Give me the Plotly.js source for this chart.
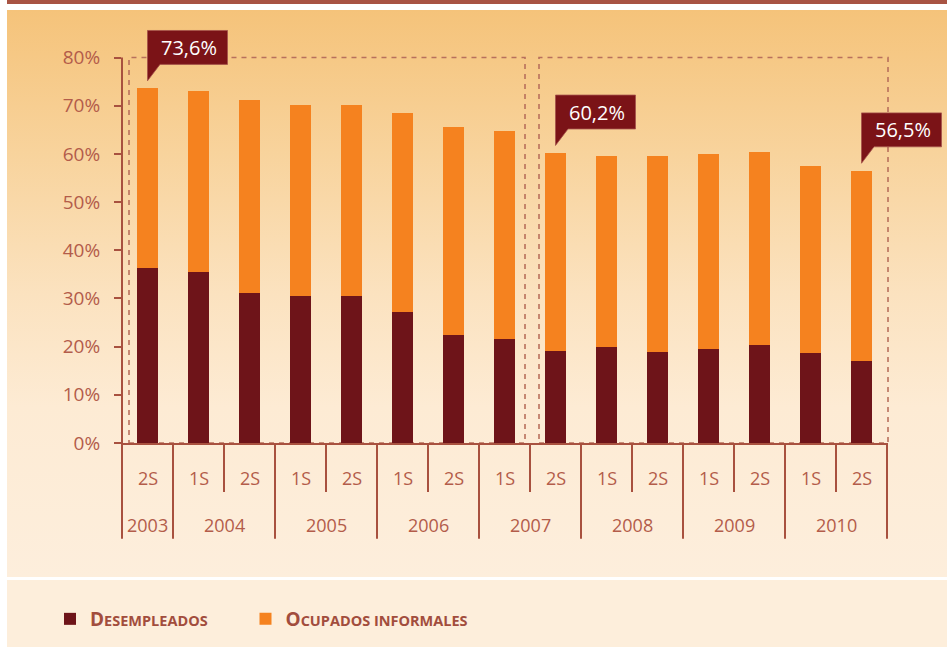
<!DOCTYPE html>
<html>
<head>
<meta charset="utf-8">
<script src="https://cdn.plot.ly/plotly-3.0.1.min.js"></script>
<style>
  html, body { margin: 0; padding: 0; background: #ffffff; }
  #wrap { position: relative; width: 947px; height: 647px; overflow: hidden; background: #ffffff; }
  #band { position: absolute; left: 7px; top: 0; width: 940px; height: 4px; background: #a85444; }
  #panel { position: absolute; left: 7px; top: 10px; width: 940px; height: 567px;
           background: linear-gradient(to bottom, #f5c37a 0%, #f8d39c 25%, #fbe2bf 50%, #fdebd4 70%, #fdeedc 100%); }
  #legpanel { position: absolute; left: 7px; top: 580px; width: 940px; height: 67px; background: #fdeedb; }
  #chart { position: absolute; left: 0; top: 0; width: 947px; height: 647px; }
</style>
</head>
<body>
<div id="wrap">
  <div id="band"></div>
  <div id="panel"></div>
  <div id="legpanel"></div>
  <div id="chart"></div>
</div>
<script>
// ---- data ----
const semesters = ['2S','1S','2S','1S','2S','1S','2S','1S','2S','1S','2S','1S','2S','1S','2S'];
const years = ['2003','2004','2004','2005','2005','2006','2006','2007','2007','2008','2008','2009','2009','2010','2010'];
const desempleados = [36.4, 35.5, 31.2, 30.6, 30.6, 27.1, 22.5, 21.5, 19.0, 20.0, 18.8, 19.6, 20.4, 18.6, 17.1];
const informales   = [37.2, 37.5, 39.9, 39.5, 39.5, 41.3, 43.0, 43.2, 41.2, 39.6, 40.8, 40.4, 40.0, 38.9, 39.4];
const yTickVals = [0, 10, 20, 30, 40, 50, 60, 70, 80];
const seriesNames = ['D<span style="font-size:14.5px">ESEMPLEADOS</span>', 'O<span style="font-size:14.5px">CUPADOS INFORMALES</span>'];
const calloutIdx = [0, 8, 14];
const boxGroups = [[0, 7], [8, 14]];

// ---- styling ----
const AX = '#a8513f';
const TXT = '#b35c4a';
const DARK = '#6e1419';
const ORANGE = '#f5821f';
const CALL = '#7b1317';
const FONT = 'Open Sans, Noto Sans, sans-serif';

const cats = years.map((y, i) => y + ' ' + semesters[i]);
const N = cats.length;
const W = 947, H = 647;
const M = {l: 122, r: 60, t: 10, b: 203};
const PW = W - M.l - M.r, PH = H - M.t - M.b;
const R = 89.86;
const px = v => v / PW, py = v => v / PH;
const cx = i => (i + 0.5) / N;
const yp = v => v / R;

const traces = [
  {type: 'bar', x: cats, y: desempleados, name: seriesNames[0], marker: {color: DARK}, hoverinfo: 'skip', legend: 'legend'},
  {type: 'bar', x: cats, y: informales, name: seriesNames[1], marker: {color: ORANGE}, hoverinfo: 'skip', legend: 'legend2'}
];

const shapes = [];
const annotations = [];

// y axis line
shapes.push({type: 'line', xref: 'paper', yref: 'paper', x0: 0, x1: 0, y0: 0, y1: yp(80), line: {color: AX, width: 2}});

// dashed group boxes
const boxOff = [[-18.5, 20.5], [-16.5, 26.5]];
boxGroups.forEach((g, k) => {
  shapes.push({type: 'rect', xref: 'paper', yref: 'paper', layer: 'below',
    x0: cx(g[0]) + px(boxOff[k][0]), x1: cx(g[1]) + px(boxOff[k][1]), y0: 0, y1: yp(80),
    line: {color: '#b8705c', width: 1.6, dash: '5px,5px'}, fillcolor: 'rgba(0,0,0,0)'});
});

// category dividers and labels
for (let b = 0; b <= N; b++) {
  const long = (b === 0 || b === N || years[b] !== years[b - 1]);
  shapes.push({type: 'line', xref: 'paper', yref: 'paper', x0: b / N, x1: b / N,
    y0: 0, y1: long ? -py(96) : -py(49), line: {color: AX, width: 2}});
}
semesters.forEach((s, i) => {
  annotations.push({xref: 'paper', yref: 'paper', x: cx(i), y: -py(35), text: s, showarrow: false,
    xanchor: 'center', yanchor: 'middle', font: {family: FONT, size: 18, color: TXT}});
});
const uniqYears = [...new Set(years)];
uniqYears.forEach(y => {
  const idx = years.map((v, i) => v === y ? i : -1).filter(i => i >= 0);
  const c = (idx[0] + idx[idx.length - 1]) / 2;
  annotations.push({xref: 'paper', yref: 'paper', x: cx(c), y: -py(82), text: y, showarrow: false,
    xanchor: 'center', yanchor: 'middle', font: {family: FONT, size: 18, color: TXT}});
});

// callouts
calloutIdx.forEach(i => {
  const total = desempleados[i] + informales[i];
  const tx = cx(i), ty = yp(total) + py(7.5);
  const bb = ty + py(16.5), bt = bb + py(34);
  const x1 = tx + px(80);
  shapes.push({type: 'path', xref: 'paper', yref: 'paper',
    path: `M ${tx},${ty} L ${tx},${bt} L ${x1},${bt} L ${x1},${bb} L ${tx + px(12.5)},${bb} Z`,
    fillcolor: CALL, line: {color: '#a5524a', width: 0.8}});
  annotations.push({xref: 'paper', yref: 'paper', x: tx + px(41), y: (bb + bt) / 2,
    text: total.toFixed(1).replace('.', ',') + '%', showarrow: false, xanchor: 'center', yanchor: 'middle',
    font: {family: FONT, size: 20, color: '#ffffff'}});
});

const legFont = {family: FONT, size: 19, color: '#a24d3d', weight: 'bold'};
const layout = {
  width: W, height: H,
  margin: M,
  paper_bgcolor: 'rgba(0,0,0,0)',
  plot_bgcolor: 'rgba(0,0,0,0)',
  barmode: 'stack',
  bargap: 0.59,
  font: {family: FONT, color: TXT},
  xaxis: {type: 'category', range: [-0.5, N - 0.5], showticklabels: false, ticks: '',
          showgrid: false, zeroline: false, showline: true, linecolor: AX, linewidth: 2, fixedrange: true},
  yaxis: {range: [0, R], tickvals: yTickVals, ticktext: yTickVals.map(v => v + '%'),
          ticks: 'outside', ticklen: 7, tickwidth: 2, tickcolor: AX, ticklabelstandoff: 10,
          tickfont: {family: FONT, size: 19, color: TXT},
          showgrid: false, zeroline: false, showline: false, fixedrange: true},
  showlegend: true,
  legend: {orientation: 'h', x: px(50 - M.l), xanchor: 'left', y: -py(175), yanchor: 'middle',
           bgcolor: 'rgba(0,0,0,0)', font: legFont},
  legend2: {orientation: 'h', x: px(245.5 - M.l), xanchor: 'left', y: -py(175), yanchor: 'middle',
           bgcolor: 'rgba(0,0,0,0)', font: legFont},
  shapes: shapes,
  annotations: annotations
};

Plotly.newPlot('chart', traces, layout, {staticPlot: true, displayModeBar: false});
</script>
</body>
</html>
